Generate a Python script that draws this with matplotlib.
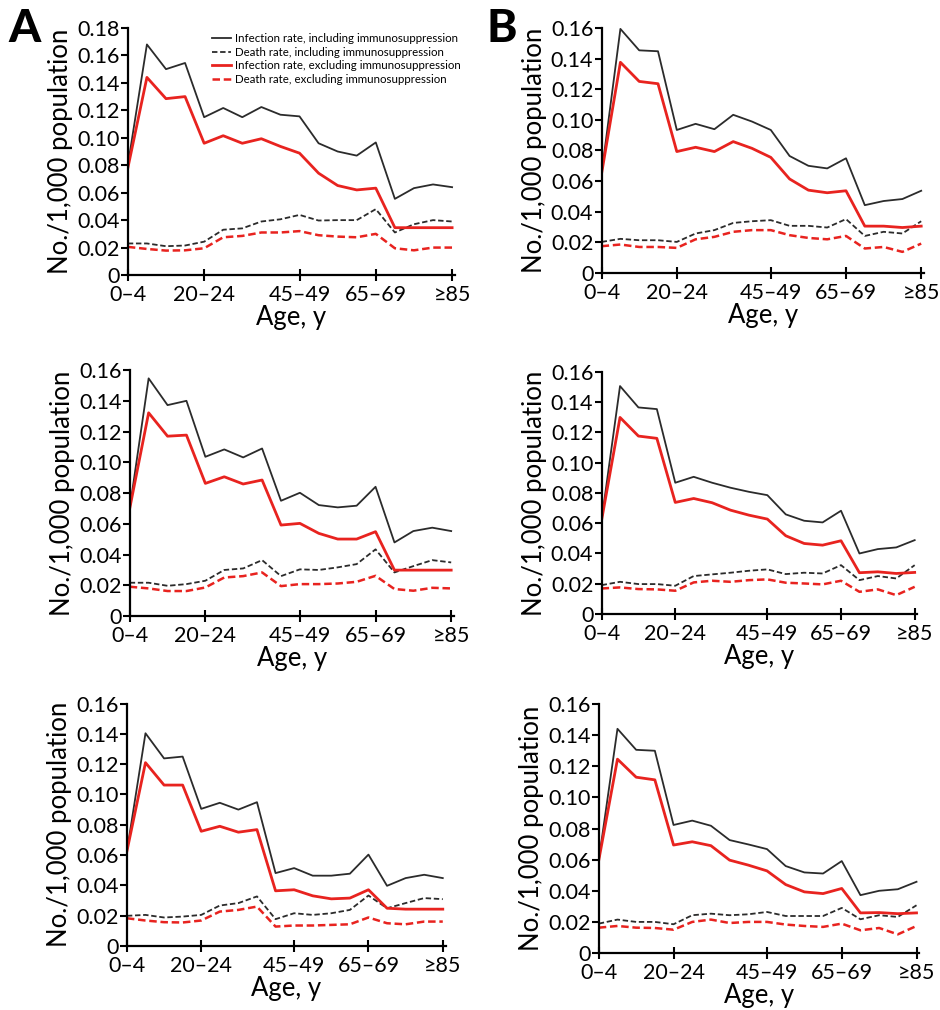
import matplotlib.pyplot as plt

plt.rcParams['font.family'] = ['Lato', 'DejaVu Sans']

age_groups = ['0–4', '5–9', '10–14', '15–19', '20–24', '25–29', '30–34', '35–39', '40–44',
              '45–49', '50–54', '55–59', '60–64', '65–69', '70–74', '75–79', '80–84', '≥85']
tick_idx = [0, 4, 9, 13, 17]

# panel A, top
a1_inf_incl = [0.080, 0.168, 0.150, 0.1545, 0.115, 0.1217, 0.115, 0.1224, 0.1168, 0.1156,
               0.096, 0.090, 0.087, 0.0966, 0.0555, 0.0633, 0.066, 0.064]
a1_death_incl = [0.023, 0.023, 0.021, 0.0215, 0.0243, 0.033, 0.034, 0.039, 0.0406, 0.0438,
                 0.0397, 0.040, 0.040, 0.048, 0.031, 0.037, 0.040, 0.039]
a1_inf_excl = [0.078, 0.144, 0.1285, 0.130, 0.096, 0.1015, 0.096, 0.0993, 0.0937, 0.0888,
               0.0742, 0.0652, 0.062, 0.0633, 0.0345, 0.0345, 0.0345, 0.0345]
a1_death_excl = [0.0205, 0.019, 0.0178, 0.018, 0.0195, 0.0275, 0.0285, 0.031, 0.031, 0.032,
                 0.029, 0.028, 0.0275, 0.030, 0.0195, 0.018, 0.020, 0.020]

# panel B, top
b1_inf_incl = [0.065, 0.1594, 0.1454, 0.1448, 0.0934, 0.0974, 0.0939, 0.1033, 0.0989, 0.0934,
               0.0764, 0.070, 0.0683, 0.0749, 0.0443, 0.047, 0.0483, 0.0537]
b1_death_incl = [0.0203, 0.0223, 0.0214, 0.0214, 0.0203, 0.0258, 0.028, 0.0327, 0.0338, 0.0345,
                 0.0308, 0.0308, 0.0297, 0.0352, 0.0242, 0.0269, 0.0258, 0.0338]
b1_inf_excl = [0.065, 0.1376, 0.1251, 0.1236, 0.0793, 0.0821, 0.0793, 0.0858, 0.0814, 0.0755,
               0.0614, 0.0541, 0.0524, 0.0537, 0.0306, 0.0306, 0.0297, 0.0306]
b1_death_excl = [0.0175, 0.0186, 0.017, 0.017, 0.0164, 0.022, 0.0236, 0.0269, 0.028, 0.028,
                 0.0247, 0.0229, 0.022, 0.0242, 0.016, 0.017, 0.0138, 0.0192]

# panel A, middle
a2_inf_incl = [0.070, 0.1546, 0.1372, 0.140, 0.1036, 0.1084, 0.1032, 0.109, 0.075, 0.0802,
               0.0722, 0.0707, 0.0718, 0.0841, 0.0479, 0.0553, 0.0575, 0.0553]
a2_death_incl = [0.0217, 0.0217, 0.0197, 0.0208, 0.023, 0.030, 0.031, 0.0364, 0.026, 0.0304,
                 0.030, 0.0317, 0.0338, 0.0434, 0.0284, 0.0325, 0.0364, 0.0349]
a2_inf_excl = [0.070, 0.1322, 0.117, 0.1177, 0.0863, 0.0906, 0.0859, 0.0885, 0.0592, 0.0603,
               0.0538, 0.0501, 0.0501, 0.0549, 0.0299, 0.0299, 0.0299, 0.0299]
a2_death_excl = [0.0191, 0.018, 0.0163, 0.0163, 0.0186, 0.0251, 0.026, 0.0284, 0.0195, 0.0208,
                 0.0208, 0.0212, 0.0223, 0.0262, 0.0176, 0.0165, 0.0184, 0.018]

# panel B, middle
b2_inf_incl = [0.062, 0.1505, 0.1364, 0.1353, 0.0867, 0.0906, 0.0867, 0.0834, 0.0807, 0.0785,
               0.0658, 0.0616, 0.0605, 0.0682, 0.040, 0.0429, 0.044, 0.0488]
b2_death_incl = [0.0191, 0.0213, 0.0198, 0.0198, 0.0187, 0.0251, 0.0262, 0.0273, 0.0286, 0.0295,
                 0.0264, 0.0273, 0.0268, 0.0323, 0.0224, 0.0251, 0.0235, 0.0323]
b2_inf_excl = [0.062, 0.1298, 0.1175, 0.116, 0.0737, 0.0763, 0.0735, 0.0686, 0.0653, 0.0627,
               0.0517, 0.0466, 0.0455, 0.0484, 0.0273, 0.0279, 0.0268, 0.0275]
b2_death_excl = [0.0169, 0.0176, 0.0165, 0.0163, 0.0154, 0.0209, 0.022, 0.0213, 0.0224, 0.0229,
                 0.0207, 0.0202, 0.0196, 0.022, 0.0147, 0.0163, 0.0125, 0.018]

# panel A, bottom
a3_inf_incl = [0.0625, 0.1404, 0.1238, 0.125, 0.0905, 0.0945, 0.090, 0.0949, 0.0481, 0.0514,
               0.0464, 0.0464, 0.0477, 0.0603, 0.0397, 0.0448, 0.047, 0.0448]
a3_death_incl = [0.0199, 0.0205, 0.0188, 0.0194, 0.0205, 0.0267, 0.0283, 0.0327, 0.0177, 0.0216,
                 0.0205, 0.0216, 0.0238, 0.0333, 0.0249, 0.0283, 0.0316, 0.0309]
a3_inf_excl = [0.0625, 0.121, 0.1062, 0.1062, 0.0757, 0.079, 0.0751, 0.0768, 0.0364, 0.0371,
               0.0331, 0.0311, 0.0316, 0.0371, 0.0249, 0.0243, 0.0243, 0.0243]
a3_death_excl = [0.0183, 0.0168, 0.0157, 0.0155, 0.0168, 0.0227, 0.0238, 0.026, 0.0128, 0.0135,
                 0.0135, 0.0139, 0.0143, 0.0188, 0.015, 0.0143, 0.0161, 0.0161]

# panel B, bottom
b3_inf_incl = [0.0597, 0.1441, 0.1306, 0.130, 0.0823, 0.0851, 0.0818, 0.0726, 0.0698, 0.0668,
               0.0559, 0.0518, 0.0511, 0.0591, 0.0372, 0.040, 0.041, 0.0458]
b3_death_incl = [0.0189, 0.0215, 0.020, 0.020, 0.0185, 0.0243, 0.0253, 0.0243, 0.0249, 0.0264,
                 0.0238, 0.0238, 0.0238, 0.029, 0.0217, 0.0243, 0.0232, 0.0307]
b3_inf_excl = [0.0597, 0.1246, 0.113, 0.1113, 0.0694, 0.0715, 0.069, 0.0597, 0.0565, 0.0528,
               0.044, 0.0393, 0.0382, 0.0415, 0.0258, 0.026, 0.0253, 0.0258]
b3_death_excl = [0.0163, 0.0174, 0.0163, 0.0161, 0.015, 0.020, 0.0215, 0.0193, 0.020, 0.020,
                 0.0183, 0.0174, 0.0168, 0.0189, 0.0146, 0.0161, 0.012, 0.0174]

legend_labels = ['Infection rate, including immunosuppression',
                 'Death rate, including immunosuppression',
                 'Infection rate, excluding immunosuppression',
                 'Death rate, excluding immunosuppression']

panels = [
    ([0.136, 0.7277, 0.348, 0.2446], 0.18, (a1_inf_incl, a1_death_incl, a1_inf_excl, a1_death_excl)),
    ([0.640, 0.7297, 0.343, 0.2426], 0.16, (b1_inf_incl, b1_death_incl, b1_inf_excl, b1_death_excl)),
    ([0.138, 0.3900, 0.345, 0.2436], 0.16, (a2_inf_incl, a2_death_incl, a2_inf_excl, a2_death_excl)),
    ([0.640, 0.3920, 0.336, 0.2400], 0.16, (b2_inf_incl, b2_death_incl, b2_inf_excl, b2_death_excl)),
    ([0.135, 0.0634, 0.339, 0.2400], 0.16, (a3_inf_incl, a3_death_incl, a3_inf_excl, a3_death_excl)),
    ([0.637, 0.0564, 0.341, 0.2465], 0.16, (b3_inf_incl, b3_death_incl, b3_inf_excl, b3_death_excl)),
]

black = '#2b2b2b'
red = '#e8231f'
x = list(range(len(age_groups)))

fig = plt.figure(figsize=(9.4, 10.1), dpi=100)

for i, (rect, ymax, series) in enumerate(panels):
    ax = fig.add_axes(rect)
    inf_incl, death_incl, inf_excl, death_excl = series
    ax.plot(x, inf_incl, color=black, lw=1.3, label=legend_labels[0])
    ax.plot(x, death_incl, color=black, lw=1.3, ls=(0, (3, 1.5)), label=legend_labels[1])
    ax.plot(x, inf_excl, color=red, lw=2.0, label=legend_labels[2])
    ax.plot(x, death_excl, color=red, lw=1.8, ls=(0, (3, 1.5)), label=legend_labels[3])

    ax.set_xlim(0, 17.15)
    ax.set_ylim(0, ymax)
    yt = [k * 0.02 for k in range(int(round(ymax / 0.02)) + 1)]
    ax.set_yticks(yt)
    ax.set_yticklabels(['0'] + ['%.2f' % v for v in yt[1:]])
    ax.set_xticks(tick_idx)
    ax.set_xticklabels([age_groups[k] for k in tick_idx])
    ax.tick_params(labelsize=15.5, width=1.5, length=5, pad=1)
    ax.tick_params(axis='x', direction='inout', length=8, pad=3)
    for s in ['top', 'right']:
        ax.spines[s].set_visible(False)
    for s in ['left', 'bottom']:
        ax.spines[s].set_linewidth(1.6)
    ax.set_ylabel('No./1,000 population', fontsize=18.5, labelpad=3)
    ax.set_xlabel('Age, y', fontsize=18.5, labelpad=0)

    if i == 0:
        ax.legend(loc='upper right', bbox_to_anchor=(1.05, 1.02), frameon=False, fontsize=8.3,
                  handlelength=1.6, handletextpad=0.4, labelspacing=0.22)

fig.text(8 / 940, 1 - 8 / 1010, 'A', fontsize=33, fontweight='black', va='top', ha='left')
fig.text(486 / 940, 1 - 8 / 1010, 'B', fontsize=33, fontweight='black', va='top', ha='left')

fig.savefig('out.png', dpi=100)
